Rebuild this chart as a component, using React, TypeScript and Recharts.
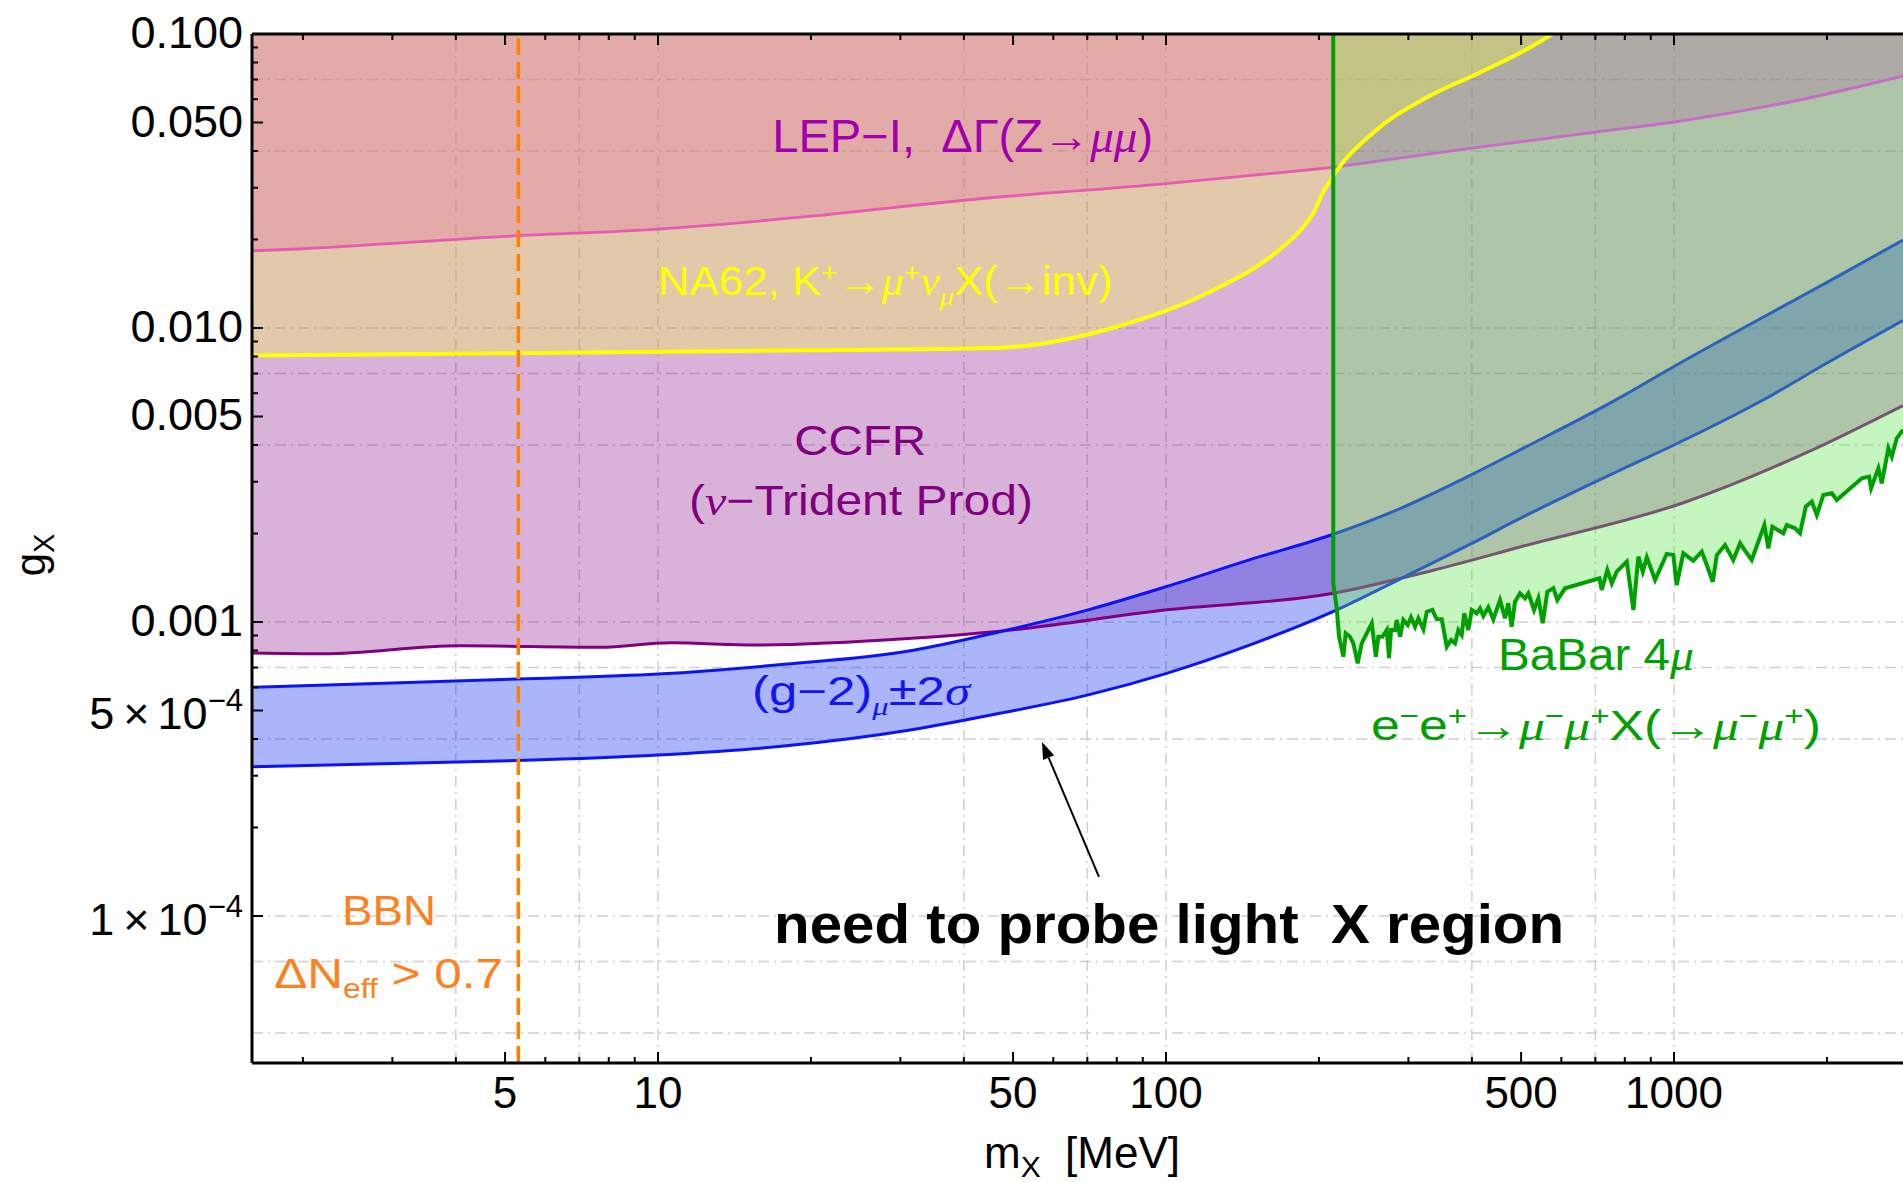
import React from 'react'
import { ComposedChart, Area, Line, XAxis, YAxis, ReferenceLine, ReferenceDot } from 'recharts'

const W = 1903
const H = 1182
const SANS = '"Liberation Sans", Arial, Helvetica, sans-serif'
const SERIF = '"Liberation Serif", "Times New Roman", serif'

// axis ranges (log-log)
const X_DOMAIN: [number, number] = [1.588, 2823]
const Y_DOMAIN: [number, number] = [3.162e-5, 0.1]
const G_TOP = 0.1

// ticks
const xMajor = [5, 10, 50, 100, 500, 1000]
const xMinor = [2, 3, 4, 6, 7, 8, 9, 20, 30, 40, 60, 70, 80, 90, 200, 300, 400, 600, 700, 800, 900, 2000]
const yMajor = [0.1, 0.05, 0.01, 0.005, 0.001, 5e-4, 1e-4]
const yMajorText = ['0.100', '0.050', '0.010', '0.005', '0.001', '5', '1']
const yMajorExp = ['', '', '', '', '', '−4', '−4']
const yMinor = [0.09, 0.08, 0.07, 0.06, 0.04, 0.03, 0.02, 0.009, 0.008, 0.007, 0.006, 0.004, 0.003, 0.002,
  9e-4, 8e-4, 7e-4, 6e-4, 4e-4, 3e-4, 2e-4]

// dash-dot grid
const xGrid = [4, 7, 10, 40, 70, 100, 400, 700, 1000]
const yGrid = [0.07, 0.04, 0.01, 0.007, 0.004, 0.001, 7e-4, 4e-4, 1e-4, 7e-5, 4e-5]

// BBN bound (vertical, MeV)
const BBN_MASS = 5.31

// LEP-I bound [mX, gX]
const lepRows: [number, number][] = [
  [1.588, 0.0183], [2, 0.0186], [5, 0.0205], [10, 0.0217], [20, 0.024], [40, 0.0272], [100, 0.031],
  [184, 0.0343], [213.4, 0.0352], [400, 0.0409], [700, 0.0464], [1000, 0.0502], [1770, 0.0597], [2823, 0.072],
]

// NA62 K -> mu nu X(inv)
const na62Rows: [number, number][] = [
  [1.588, 0.00806], [5, 0.0082], [20, 0.0084], [46, 0.00855], [80, 0.0101], [120, 0.0131], [170, 0.0189],
  [184, 0.0215], [195, 0.0246], [204, 0.029], [215, 0.0336], [255, 0.046], [327, 0.061], [417, 0.0743],
  [560, 0.097], [575, 0.1],
]

// CCFR neutrino trident
const ccfrRows: [number, number][] = [
  [1.588, 7.85e-4], [2.2, 7.8e-4], [4.06, 8.3e-4], [7.7, 8.2e-4], [10.6, 8.5e-4], [15.6, 8.35e-4],
  [31.6, 8.8e-4], [47.1, 9.3e-4], [100.3, 1.1e-3], [212, 1.25e-3], [336, 1.5e-3],
  [498, 1.8e-3], [1047, 2.55e-3], [1836, 3.79e-3], [2823, 5.45e-3],
]

// (g-2)_mu +-2 sigma band [mX, lower, upper]
const g2Rows: [number, number, number][] = [
  [1.588, 3.22e-4, 6.0e-4], [3, 3.3e-4, 6.2e-4], [5.3, 3.38e-4, 6.4e-4], [10, 3.53e-4, 6.65e-4],
  [17.3, 3.77e-4, 7.15e-4], [31.6, 4.3e-4, 8.0e-4], [47.1, 4.89e-4, 9.27e-4], [70.3, 5.65e-4, 1.1e-3],
  [100.3, 6.69e-4, 1.32e-3], [146.4, 8.36e-4, 1.63e-3], [212, 1.08e-3, 1.98e-3], [288.8, 1.4e-3, 2.43e-3],
  [399.7, 1.85e-3, 3.17e-3], [497.6, 2.25e-3, 3.85e-3], [773, 3.25e-3, 5.73e-3], [1000, 4.0e-3, 7.4e-3],
  [1500, 5.7e-3, 1.09e-2], [2000, 7.6e-3, 1.43e-2], [2823, 1.06e-2, 1.99e-2],
]

// BaBar 4mu bound (starts with the vertical edge at the dimuon threshold)
const babarRows: [number, number][] = [
  [213.4, 0.1], [213.4, 1.354e-3], [216.8, 1.113e-3], [219.1, 8.91e-4], [223.4, 7.62e-4], [225.8, 9.15e-4],
  [230.2, 8.91e-4], [233.7, 8.46e-4], [238.4, 7.24e-4], [242.8, 8.46e-4], [248.4, 9.15e-4], [254.1, 9.9e-4],
  [258.8, 7.62e-4], [261.8, 8.91e-4], [266.6, 8.91e-4], [272.0, 9.39e-4], [274.8, 7.53e-4], [277.3, 9.39e-4],
  [282.4, 9.39e-4], [284.6, 1.016e-3], [288.9, 8.91e-4], [293.2, 1.016e-3], [299.1, 9.77e-4], [303.6, 1.038e-3],
  [309.2, 9.64e-4], [313.9, 1.029e-3], [321.1, 9.45e-4], [326.1, 1.084e-3], [334.4, 1.099e-3], [341.2, 1.021e-3],
  [348.9, 1.021e-3], [357.0, 8.24e-4], [363.9, 8.68e-4], [370.6, 8.46e-4], [376.2, 9.39e-4], [382.0, 9.03e-4],
  [386.5, 1.07e-3], [393.6, 9.39e-4], [399.7, 1.099e-3], [408.8, 1.07e-3], [415.0, 1.113e-3], [421.3, 1.048e-3],
  [430.9, 1.122e-3], [440.8, 1.021e-3], [454.4, 1.188e-3], [464.8, 1.029e-3], [471.8, 1.158e-3], [479.1, 9.64e-4],
  [486.4, 1.172e-3], [497.6, 1.252e-3], [509.0, 1.204e-3], [516.7, 1.252e-3], [530.2, 1.099e-3], [540.7, 1.204e-3],
  [551.5, 9.9e-4], [563.2, 1.268e-3], [578.7, 1.302e-3], [589.3, 1.188e-3], [610.2, 1.302e-3], [713.0, 1.408e-3],
  [720.7, 1.285e-3], [739.2, 1.503e-3], [754.2, 1.354e-3], [771.4, 1.483e-3], [807.2, 1.604e-3], [831.8, 1.099e-3],
  [850.8, 1.668e-3], [868.0, 1.483e-3], [883.9, 1.66e-3], [917.7, 1.39e-3], [967.4, 1.703e-3], [996.8, 1.69e-3],
  [1012, 1.336e-3], [1043, 1.713e-3], [1091, 1.616e-3], [1134, 1.734e-3], [1160, 1.563e-3], [1192, 1.371e-3],
  [1214, 1.69e-3], [1260, 1.827e-3], [1308, 1.625e-3], [1349, 1.852e-3], [1384, 1.734e-3], [1422, 1.625e-3],
  [1506, 2.137e-3], [1533, 1.781e-3], [1562, 2.109e-3], [1641, 2.003e-3], [1667, 2.137e-3], [1731, 2.083e-3],
  [1770, 2.003e-3], [1817, 2.468e-3], [1867, 2.566e-3], [1910, 2.312e-3], [1968, 2.704e-3], [2044, 2.741e-3],
  [2091, 2.6e-3], [2342, 3.083e-3], [2421, 3.122e-3], [2443, 2.85e-3], [2525, 3.333e-3], [2564, 2.964e-3],
  [2642, 3.898e-3], [2683, 3.649e-3], [2744, 4.215e-3], [2823, 4.498e-3],
]

const upToTop = (rows: [number, number][]) => rows.map(([m, g]) => ({ m, g, band: [g, G_TOP] }))
const lepData = upToTop(lepRows)
const lepLeft = lepData.filter(d => d.m <= 213.4)
const lepRight = lepData.filter(d => d.m >= 213.4)
const na62Data = upToTop(na62Rows)
const ccfrData = upToTop(ccfrRows)
const babarData = upToTop(babarRows)
const g2Data = g2Rows.map(([m, lo, hi]) => ({ m, lo, hi, band: [lo, hi] }))

const xTicks = [...xMinor, ...xMajor].sort((a, b) => a - b)
const yTicks = [...yMinor, ...yMajor].sort((a, b) => a - b)

function BottomTick(props: any) {
  const { x, y, payload } = props
  const major = xMajor.includes(payload.value)
  return (
    <g>
      <line x1={x} x2={x} y1={y} y2={y - (major ? 11 : 6)} stroke="#000" strokeWidth={2} />
      {major && (
        <text x={x} y={y + 45} textAnchor="middle" fontSize={44} fontFamily={SANS} fill="#000">
          {payload.value}
        </text>
      )}
    </g>
  )
}

function TopTick(props: any) {
  const { x, y, payload } = props
  const major = xMajor.includes(payload.value)
  return <line x1={x} x2={x} y1={y} y2={y + (major ? 11 : 6)} stroke="#000" strokeWidth={2} />
}

function LeftTick(props: any) {
  const { x, y, payload } = props
  const i = yMajor.indexOf(payload.value)
  const major = i >= 0
  return (
    <g>
      <line x1={x} x2={x + (major ? 11 : 6)} y1={y} y2={y} stroke="#000" strokeWidth={2} />
      {major && (
        <text x={x - 9} y={y + (yMajorExp[i] ? 19 : 14)} textAnchor="end" fontSize={45} fontFamily={SANS} fill="#000">
          {yMajorExp[i] ? (
            <>
              <tspan>{yMajorText[i]}</tspan>
              <tspan dx={9}>×</tspan>
              <tspan dx={8}>10</tspan>
              <tspan dy={-18} fontSize={31}>{yMajorExp[i]}</tspan>
            </>
          ) : yMajorText[i]}
        </text>
      )}
    </g>
  )
}

function XTitle(props: any) {
  const vb = props.viewBox || { x: 252, y: 1063, width: 1651, height: 119 }
  return (
    <text x={vb.x + 830} y={vb.y + 105} textAnchor="middle" fontSize={44} fontFamily={SANS} fill="#000" style={{ whiteSpace: 'pre' }}>
      <tspan>m</tspan>
      <tspan dy={9} fontSize={30}>X</tspan>
      <tspan dy={-9}>  [MeV]</tspan>
    </text>
  )
}

function YTitle(props: any) {
  const vb = props.viewBox || { x: 0, y: 34, width: 252, height: 1029 }
  const cx = vb.x + 45
  const cy = vb.y + 521
  return (
    <text x={cx} y={cy} transform={`rotate(-90, ${cx}, ${cy})`} textAnchor="middle" fontSize={42} fontFamily={SANS} fill="#000">
      <tspan>g</tspan>
      <tspan dy={9} fontSize={29}>X</tspan>
    </text>
  )
}

// [text, position, font] : font 'it' = serif italic, 'rm' = serif upright
type Seg = [string, ('sup' | 'sub' | '')?, ('it' | 'rm')?]

function rich(segs: Seg[], size: number) {
  let level = 0
  return segs.map(([t, pos, font], i) => {
    const target = pos === 'sup' ? -0.36 * size : pos === 'sub' ? 0.24 * size : 0
    const dy = target - level
    level = target
    return (
      <tspan
        key={i}
        dy={dy}
        fontSize={pos ? size * 0.64 : undefined}
        fontFamily={font ? SERIF : undefined}
        fontStyle={font === 'it' ? 'italic' : undefined}
      >
        {t}
      </tspan>
    )
  })
}

function textShape(segs: Seg[], size: number, color: string, width: number, bold = false) {
  return (p: any) => (
    <text
      x={p.cx}
      y={p.cy}
      textAnchor="middle"
      fontSize={size}
      fontFamily={SANS}
      fontWeight={bold ? 'bold' : 'normal'}
      fill={color}
      textLength={width}
      lengthAdjust="spacingAndGlyphs"
      style={{ whiteSpace: 'pre' }}
    >
      {rich(segs, size)}
    </text>
  )
}

function ArrowShape(p: any) {
  const { x1, y1, x2, y2 } = p
  if ([x1, y1, x2, y2].some(v => typeof v !== 'number' || isNaN(v))) return null
  const a = Math.atan2(y2 - y1, x2 - x1)
  const len = 17
  const half = 6
  const bx = x2 - len * Math.cos(a)
  const by = y2 - len * Math.sin(a)
  const nx = -Math.sin(a) * half
  const ny = Math.cos(a) * half
  return (
    <g>
      <line x1={x1} y1={y1} x2={bx} y2={by} stroke="#000" strokeWidth={2} />
      <polygon points={`${x2},${y2} ${bx + nx},${by + ny} ${bx - nx},${by - ny}`} fill="#000" />
    </g>
  )
}

const GRID_STYLE = { stroke: '#cfcfcf', strokeWidth: 1.5, strokeDasharray: '11 5 2 5' }

export default function App() {
  return (
    <div style={{ width: W, height: H, background: '#fff', overflow: 'hidden' }}>
      <style>{'html,body{margin:0;padding:0;overflow:hidden;background:#fff}'}</style>
      <ComposedChart width={W} height={H} margin={{ top: 0, right: 0, bottom: 0, left: 0 }}>
        {/* grid */}
        {xGrid.map(v => (
          <ReferenceLine key={`gx${v}`} x={v} {...GRID_STYLE} zIndex={50} />
        ))}
        {yGrid.map(v => (
          <ReferenceLine key={`gy${v}`} y={v} {...GRID_STYLE} zIndex={50} />
        ))}

        {/* excluded / preferred regions, translucent so overlaps mix */}
        <Area data={ccfrData} dataKey="band" type="monotone" fill="rgb(128,0,128)" fillOpacity={0.3} stroke="none" isAnimationActive={false} zIndex={101} />
        <Area data={g2Data} dataKey="band" type="monotone" fill="rgb(0,30,240)" fillOpacity={0.33} stroke="none" isAnimationActive={false} zIndex={102} />
        <Area data={lepData} dataKey="band" type="monotone" fill="rgb(217,35,207)" fillOpacity={0.3} stroke="none" isAnimationActive={false} zIndex={103} />

        <Line data={ccfrData} dataKey="g" type="monotone" stroke="#800080" strokeWidth={3} dot={false} activeDot={false} isAnimationActive={false} zIndex={110} />
        <Line data={g2Data} dataKey="hi" type="monotone" stroke="#0a14f5" strokeWidth={3} dot={false} activeDot={false} isAnimationActive={false} zIndex={110} />
        <Line data={g2Data} dataKey="lo" type="monotone" stroke="#0a14f5" strokeWidth={3} dot={false} activeDot={false} isAnimationActive={false} zIndex={110} />

        <Area data={babarData} dataKey="band" type="linear" fill="rgb(100,230,85)" fillOpacity={0.37} stroke="none" isAnimationActive={false} zIndex={120} />
        <Area data={na62Data} dataKey="band" type="monotone" fill="rgb(250,255,60)" fillOpacity={0.3} stroke="none" isAnimationActive={false} zIndex={125} />

        <Line data={lepLeft} dataKey="g" type="monotone" stroke="#e65ab4" strokeWidth={2.8} dot={false} activeDot={false} isAnimationActive={false} zIndex={140} />
        <Line data={lepRight} dataKey="g" type="monotone" stroke="#c66cc6" strokeWidth={2.8} dot={false} activeDot={false} isAnimationActive={false} zIndex={140} />
        <Line data={na62Data} dataKey="g" type="monotone" stroke="#ffff00" strokeWidth={4} dot={false} activeDot={false} isAnimationActive={false} zIndex={141} />
        <Line data={babarData} dataKey="g" type="linear" stroke="#00a000" strokeWidth={4} dot={false} activeDot={false} isAnimationActive={false} zIndex={142} />

        <ReferenceLine x={BBN_MASS} stroke="#ff7f00" strokeWidth={3.5} strokeDasharray="17 7" zIndex={150} />

        {/* annotations */}
        <ReferenceDot x={39.8} y={0.0397} r={0} zIndex={160} ifOverflow="visible"
          shape={textShape([['LEP−I,  ΔΓ(Z'], ['→', '', 'rm'], ['μμ', '', 'it'], [')']], 46, '#a200ae', 381)} />
        <ReferenceDot x={28} y={0.01294} r={0} zIndex={160} ifOverflow="visible"
          shape={textShape([['NA62, K'], ['+', 'sup'], ['→', '', 'rm'], ['μ', '', 'it'], ['+', 'sup'], ['ν', '', 'it'], ['μ', 'sub', 'it'], ['X('], ['→', '', 'rm'], ['inv)']], 40, '#ffff00', 455)} />
        <ReferenceDot x={25} y={3.7e-3} r={0} zIndex={160} ifOverflow="visible"
          shape={textShape([['CCFR']], 42, '#800080', 132)} />
        <ReferenceDot x={25.1} y={2.31e-3} r={0} zIndex={160} ifOverflow="visible"
          shape={textShape([['('], ['ν', '', 'it'], ['−Trident Prod)']], 42, '#800080', 344)} />
        <ReferenceDot x={25.1} y={5.22e-4} r={0} zIndex={160} ifOverflow="visible"
          shape={textShape([['(g−2)'], ['μ', 'sub', 'it'], ['±2'], ['σ', '', 'it']], 40, '#1414f0', 218)} />
        <ReferenceDot x={702} y={6.87e-4} r={0} zIndex={160} ifOverflow="visible"
          shape={textShape([['BaBar 4'], ['μ', '', 'it']], 44, '#00a000', 196)} />
        <ReferenceDot x={702} y={3.97e-4} r={0} zIndex={160} ifOverflow="visible"
          shape={textShape([['e'], ['−', 'sup'], ['e'], ['+', 'sup'], ['→', '', 'rm'], ['μ', '', 'it'], ['−', 'sup'], ['μ', '', 'it'], ['+', 'sup'], ['X('], ['→', '', 'rm'], ['μ', '', 'it'], ['−', 'sup'], ['μ', '', 'it'], ['+', 'sup'], [')']], 42, '#00a000', 450)} />
        <ReferenceDot x={2.955} y={9.32e-5} r={0} zIndex={160} ifOverflow="visible"
          shape={textShape([['BBN']], 42, '#ff8020', 94)} />
        <ReferenceDot x={2.95} y={5.69e-5} r={0} zIndex={160} ifOverflow="visible"
          shape={textShape([['ΔN'], ['eff', 'sub'], [' > 0.7']], 42, '#ff8020', 229)} />
        <ReferenceDot x={101.4} y={8.09e-5} r={0} zIndex={160} ifOverflow="visible"
          shape={textShape([['need to probe light  X region']], 55, '#000', 790, true)} />
        <ReferenceLine segment={[{ x: 73.8, y: 1.358e-4 }, { x: 57.0, y: 3.91e-4 }]} shape={ArrowShape} zIndex={160} ifOverflow="visible" />

        {/* frame + ticks */}
        <XAxis
          dataKey="m" type="number" scale="log" domain={X_DOMAIN} allowDataOverflow
          ticks={xTicks} interval={0} tick={BottomTick} tickLine={false} tickSize={0} tickMargin={0}
          axisLine={{ stroke: '#000', strokeWidth: 3 }} height={119} label={XTitle}
        />
        <XAxis
          xAxisId="top" orientation="top" dataKey="m" type="number" scale="log" domain={X_DOMAIN} allowDataOverflow
          ticks={xTicks} interval={0} tick={TopTick} tickLine={false} tickSize={0} tickMargin={0}
          axisLine={{ stroke: '#000', strokeWidth: 3 }} height={34}
        />
        <YAxis
          type="number" scale="log" domain={Y_DOMAIN} allowDataOverflow
          ticks={yTicks} interval={0} tick={LeftTick} tickLine={false} tickSize={0} tickMargin={0}
          axisLine={{ stroke: '#000', strokeWidth: 3 }} width={252} label={YTitle}
        />
      </ComposedChart>
    </div>
  )
}
